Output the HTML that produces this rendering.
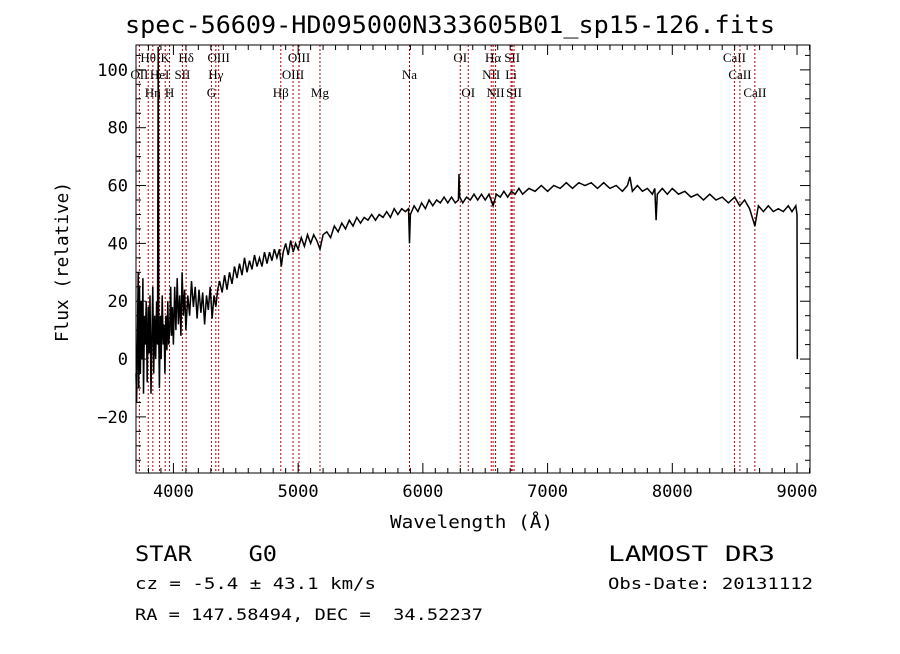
<!DOCTYPE html>
<html><head><meta charset="utf-8"><style>
body{margin:0;background:#fff;}
svg text{font-family:"Liberation Serif",serif;fill:#000;white-space:pre;}
.h{font-family:"DejaVu Sans Mono","Liberation Mono",monospace !important;}
</style></head><body>
<svg id="c" width="900" height="649" xmlns="http://www.w3.org/2000/svg" xml:space="preserve">
<rect width="900" height="649" fill="#fff"/>
<text class="h" x="125" y="33" font-size="24" textLength="650" lengthAdjust="spacingAndGlyphs">spec-56609-HD095000N333605B01_sp15-126.fits</text>
<g id="grid"></g>
<g id="lines"></g>
<g id="axes"></g>
<path id="spec" fill="none" stroke="#000" stroke-width="1.5"/>
<text class="h" x="390" y="528" font-size="18" textLength="163" lengthAdjust="spacingAndGlyphs">Wavelength (Å)</text>
<text class="h" transform="translate(68,342) rotate(-90)" font-size="18" textLength="160" lengthAdjust="spacingAndGlyphs">Flux (relative)</text>
<text class="h" x="135" y="561" font-size="21" textLength="142" lengthAdjust="spacingAndGlyphs">STAR    G0</text>
<text class="h" x="608" y="561" font-size="21" textLength="167" lengthAdjust="spacingAndGlyphs">LAMOST DR3</text>
<text class="h" x="135" y="589" font-size="16" textLength="241" lengthAdjust="spacingAndGlyphs">cz = -5.4 ± 43.1 km/s</text>
<text class="h" x="608" y="589" font-size="16" textLength="205" lengthAdjust="spacingAndGlyphs">Obs-Date: 20131112</text>
<text class="h" x="135" y="620" font-size="16" textLength="348" lengthAdjust="spacingAndGlyphs">RA = 147.58494, DEC =  34.52237</text>
</svg>
<script>
const wave=[3700,3705,3712,3718,3722,3728,3735,3742,3748,3755,3760,3768,3775,3782,3790,3798,3805,3812,3820,3828,3835,3842,3850,3858,3865,3872,3878,3882,3888,3895,3902,3910,3918,3925,3932,3940,3948,3955,3962,3970,3978,3985,3992,4000,4010,4020,4030,4040,4050,4060,4070,4080,4090,4100,4115,4130,4145,4160,4175,4190,4205,4220,4235,4250,4265,4280,4295,4310,4325,4340,4355,4370,4390,4410,4430,4450,4470,4490,4510,4530,4550,4570,4590,4610,4630,4650,4670,4690,4710,4730,4750,4770,4790,4810,4830,4850,4865,4880,4900,4920,4940,4960,4980,5000,5025,5050,5075,5100,5125,5150,5175,5200,5230,5260,5290,5320,5350,5380,5410,5440,5470,5500,5530,5560,5590,5620,5650,5680,5710,5740,5770,5800,5830,5860,5885,5893,5900,5930,5960,5990,6020,6050,6080,6110,6140,6170,6200,6230,6260,6285,6290,6295,6320,6350,6380,6410,6440,6470,6500,6530,6563,6590,6620,6650,6680,6710,6740,6770,6800,6850,6900,6950,7000,7050,7100,7150,7200,7250,7300,7350,7400,7450,7500,7550,7600,7640,7660,7680,7720,7760,7800,7840,7860,7870,7880,7920,7960,8000,8050,8100,8150,8200,8250,8300,8350,8400,8450,8500,8540,8580,8620,8662,8690,8730,8770,8810,8850,8890,8930,8960,8990,9000,9002];
const flux=[-5,-15,10,30,-10,25,-5,20,0,28,-12,15,5,20,-8,18,2,22,-12,10,25,-5,15,0,20,5,108,10,-10,15,0,22,5,12,-5,15,3,20,5,10,25,8,18,5,25,10,28,12,22,8,30,15,24,10,22,15,27,18,25,14,24,16,23,12,22,17,25,14,22,18,24,27,23,29,24,30,26,32,28,33,29,35,30,34,31,36,32,35,32,37,33,37,34,38,35,38,32,37,40,36,41,37,40,38,42,39,43,40,43,41,38,43,44,42,46,44,47,45,48,46,49,47,49,48,50,48,50,49,51,49,52,50,52,51,52,40,50,53,51,54,52,55,53,55,54,56,54,56,54,55,64,56,54,56,55,57,55,57,55,57,53,57,56,58,56,58,57,59,57,59,58,60,58,60,59,61,59,61,60,61,59,61,59,60,58,60,63,58,60,58,59,57,59,48,57,59,57,59,57,58,56,57,55,57,55,56,54,56,53,55,52,46,53,51,53,51,52,51,53,51,53,50,10];
const lineWaves=[3727,3798,3835,3889,3934,3969,4072,4102,4305,4340,4363,4861,4959,5007,5175,5893,6300,6364,6548,6563,6583,6707,6716,6731,8498,8542,8662];
const lineLabels=["OII","Hθ","Hη","HeI","K","H","SII","Hδ","G","Hγ","OIII","Hβ","OIII","OIII","Mg","Na","OI","OI","NII","Hα","NII","Li","SII","SII","CaII","CaII","CaII"];
const lineRows=[2,1,3,2,1,3,2,1,3,2,1,3,2,1,3,2,1,3,2,1,3,2,1,3,1,2,3];
const xTicks=[4000,5000,6000,7000,8000,9000];
const yTicks=[-20,0,20,40,60,80,100];

const L=136,R=810,T=45,B=473;
const xMin=3700,xMax=9104,yMin=-39.4,yMax=108.6;
const X=w=>L+(w-xMin)/(xMax-xMin)*(R-L);
const Y=f=>B-(f-yMin)/(yMax-yMin)*(B-T);
const NS="http://www.w3.org/2000/svg";
function mk(tag,attrs,parent){const e=document.createElementNS(NS,tag);for(const k in attrs)e.setAttribute(k,attrs[k]);parent.appendChild(e);return e;}
const lg=document.getElementById('lines');
const rowY={1:62,2:79,3:97};
lineWaves.forEach((w,i)=>{
  const x=X(w);
  const l=mk('line',{x1:x,x2:x,y1:T,y2:B,stroke:'#b00000','stroke-width':1,'stroke-dasharray':'2,2'},lg);
  
  
  const t=mk('text',{x:x,y:rowY[lineRows[i]],'font-size':13,'text-anchor':'middle'},lg);
  t.textContent=lineLabels[i];
  
  
});
const ax=document.getElementById('axes');
const fr=mk('rect',{x:L,y:T,width:R-L,height:B-T,fill:'none',stroke:'#000','stroke-width':1},ax);


for(let w=3700;w<=9100;w+=100){
  const x=X(w);const major=w%1000===0;const len=major?10:5;
  mk('line',{x1:x,x2:x,y1:B,y2:B-len,stroke:'#000'},ax);
  mk('line',{x1:x,x2:x,y1:T,y2:T+len,stroke:'#000'},ax);
}
for(let f=-35;f<=105;f+=5){
  const y=Y(f);const major=f%20===0;const len=major?10:5;
  mk('line',{x1:L,x2:L+len,y1:y,y2:y,stroke:'#000'},ax);
  mk('line',{x1:R,x2:R-len,y1:y,y2:y,stroke:'#000'},ax);
}
xTicks.forEach(v=>{
  const t=mk('text',{x:X(v),y:B+24,'font-size':17,'text-anchor':'middle',class:'h'},ax);
  t.textContent=v;
  
  
});
yTicks.forEach(v=>{
  const t=mk('text',{x:L-8,y:Y(v)+6,'font-size':17,'text-anchor':'end',class:'h'},ax);
  t.textContent=v<0?'−'+(-v):v;
  
  
});
let d='';
wave.forEach((w,i)=>{const y=Math.max(T,Math.min(B,Y(flux[i])));d+=(i?'L':'M')+X(w).toFixed(1)+' '+y.toFixed(1);});
d+='L'+X(9002).toFixed(1)+' '+Y(0).toFixed(1);
document.getElementById('spec').setAttribute('d',d);
</script>
</body></html>
